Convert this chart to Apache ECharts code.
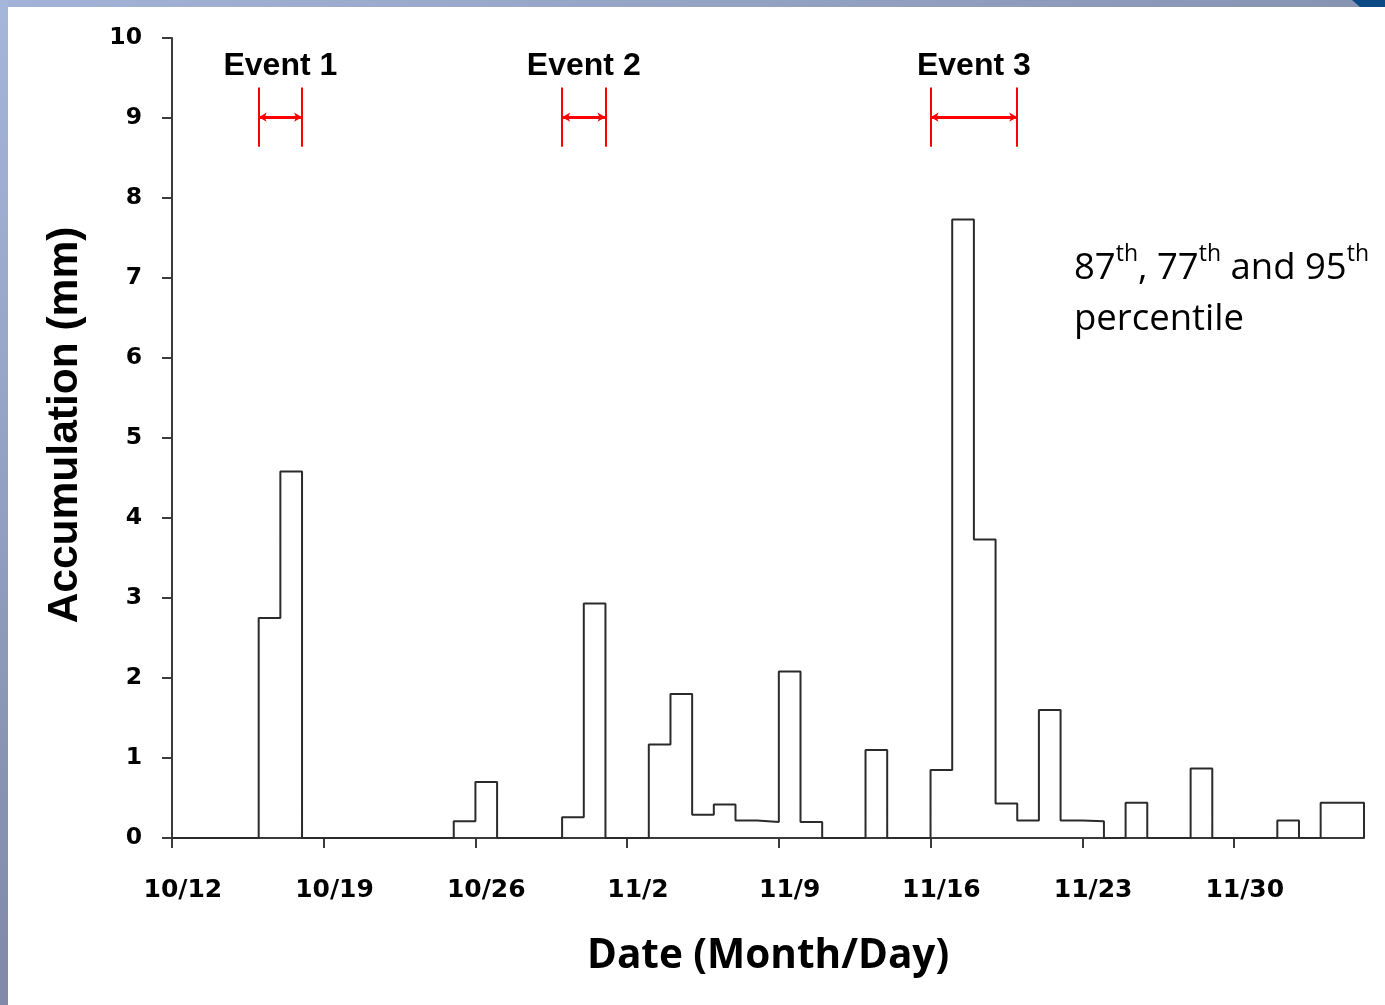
<!DOCTYPE html>
<html><head><meta charset="utf-8">
<script src="https://cdn.jsdelivr.net/npm/echarts@6.0.0/dist/echarts.min.js"></script>
<style>
html,body{margin:0;padding:0;background:#fff;}
#top{position:absolute;left:0;top:0;width:1385px;height:7px;background:linear-gradient(to right,#a3b3d7,#8793b3);}
#left{position:absolute;left:0;top:0;width:8px;height:1005px;background:linear-gradient(to bottom,#a5b6db,#8089a7);}
#corner{position:absolute;left:1352px;top:0;width:33px;height:7px;background:#0c4a86;clip-path:polygon(0 0,100% 0,100% 100%,8px 100%);}
#chart{position:absolute;left:0;top:0;width:1385px;height:1005px;}
</style></head><body>
<div id="top"></div><div id="left"></div><div id="corner"></div>
<div id="chart"></div>
<script>
// Daily accumulation (mm), one value per day starting 10/12 (55 days, through 12/5)
const dayCount = 55;
const accumulation = [
  0, 0, 0, 0, 2.75, 4.58, 0, 0, 0, 0,        // 10/12 - 10/21
  0, 0, 0, 0.21, 0.70, 0, 0, 0, 0.26, 2.93,  // 10/22 - 10/31
  0, 0, 1.17, 1.80, 0.29, 0.42, 0.22, 0.20, 2.08, 0.20, // 11/1 - 11/10
  0, 0, 1.10, 0, 0, 0.85, 7.73, 3.73, 0.43, 0.22,       // 11/11 - 11/20
  1.60, 0.22, 0.21, 0, 0.44, 0, 0, 0.87, 0, 0,          // 11/21 - 11/30
  0, 0.22, 0, 0.44, 0.44                                // 12/1 - 12/5
];
const tickDays = [0, 7, 14, 21, 28, 35, 42, 49];
const tickLabels = ['10/12', '10/19', '10/26', '11/2', '11/9', '11/16', '11/23', '11/30'];
const eventNames = ['Event 1', 'Event 2', 'Event 3'];
const eventStart = [4, 18, 35];
const eventEnd = [6, 20, 39];

const stepData = accumulation.map((v, i) => [i, v]);
stepData.push([dayCount, accumulation[dayCount - 1]]);
stepData.push([dayCount, 0]);

const red = '#ff0000';
const markLines = [];
eventNames.forEach((n, k) => {
  [eventStart[k], eventEnd[k]].forEach(d => {
    markLines.push([
      { coord: [d, 8.64], symbol: 'none', lineStyle: { color: red, width: 2, type: 'solid' } },
      { coord: [d, 9.38], symbol: 'none' }
    ]);
  });
  markLines.push([
    { coord: [eventStart[k], 9.01], symbol: 'arrow', symbolSize: [7, 8], lineStyle: { color: red, width: 3, type: 'solid' } },
    { coord: [eventEnd[k], 9.01], symbol: 'arrow', symbolSize: [7, 8] }
  ]);
});
const markPoints = eventNames.map((n, k) => ({
  name: n, coord: [(eventStart[k] + eventEnd[k]) / 2, 9.645]
}));

const axisColor = '#3a3a3a';
const chart = echarts.init(document.getElementById('chart'));
chart.setOption({
  animation: false,
  backgroundColor: 'transparent',
  grid: { left: 172, top: 38, width: 1192, height: 800, containLabel: false, outerBoundsMode: 'none' },
  xAxis: {
    type: 'value', min: 0, max: dayCount,
    axisLine: { show: true, onZero: false, lineStyle: { color: axisColor, width: 2 } },
    axisTick: { show: true, inside: false, length: 10, customValues: tickDays, lineStyle: { color: axisColor, width: 2 } },
    axisLabel: {
      customValues: tickDays.map(d => d + 0.5),
      formatter: v => tickLabels[tickDays.indexOf(Math.round(v - 0.5))] || '',
      margin: 40, fontFamily: 'DejaVu Sans', fontWeight: 'bold', fontSize: 25, color: '#000'
    },
    splitLine: { show: false },
    name: 'Date (Month/Day)', nameLocation: 'middle', nameGap: 98,
    nameTextStyle: { fontFamily: 'Open Sans', fontWeight: 'bold', fontSize: 40.5, color: '#000' }
  },
  yAxis: {
    type: 'value', min: 0, max: 10, interval: 1,
    axisLine: { show: true, lineStyle: { color: axisColor, width: 2 } },
    axisTick: { show: true, inside: false, length: 10, lineStyle: { color: axisColor, width: 2 } },
    axisLabel: { margin: 30, fontFamily: 'DejaVu Sans', fontWeight: 'bold', fontSize: 23.5, color: '#000' },
    splitLine: { show: false },
    name: 'Accumulation (mm)', nameLocation: 'middle', nameRotate: 90, nameGap: 85,
    nameTextStyle: { fontFamily: 'Liberation Sans', fontWeight: 'bold', fontSize: 42.5, color: '#000', padding: [0, 0, 0, 26] }
  },
  series: [{
    type: 'line', data: stepData, step: 'end', showSymbol: false, symbol: 'none', silent: true,
    lineStyle: { color: '#2b2b2b', width: 2 },
    markLine: { silent: true, label: { show: false }, data: markLines, animation: false },
    markPoint: {
      silent: true, symbol: 'rect', symbolSize: 1, itemStyle: { color: 'rgba(0,0,0,0)' },
      label: { show: true, position: 'inside', formatter: p => p.name, fontFamily: 'Liberation Sans', fontWeight: 'bold', fontSize: 32, color: '#000' },
      data: markPoints
    }
  }],
  graphic: [{
    type: 'text', left: 1074, top: 243,
    style: {
      text: '{n|87}{s|th}{n|, 77}{s|th}{n| and 95}{s|th}\n{n|percentile}',
      rich: {
        n: { fontFamily: 'Open Sans', fontSize: 36.5, lineHeight: 51, fill: '#000', color: '#000' },
        s: { fontFamily: 'Open Sans', fontSize: 23, lineHeight: 38, verticalAlign: 'top', fill: '#000', color: '#000' }
      }
    }
  }]
});
</script>
</body></html>
